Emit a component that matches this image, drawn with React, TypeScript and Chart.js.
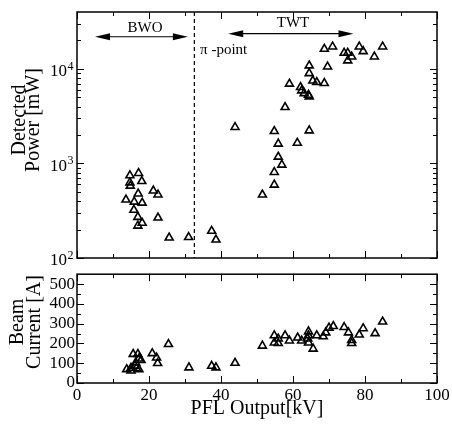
import React, { useEffect, useRef } from "react";
import { Chart, registerables } from "chart.js";

Chart.register(...registerables);

const FONT = "'Liberation Serif', 'Times New Roman', serif";

// ---- Data: detected power (top panel) ----
const powerKV = [
  14.7, 17.1, 14.7, 18.0, 14.8, 13.6, 17.0, 15.9, 18.1, 21.2, 22.5, 15.8, 16.9, 22.5, 18.1, 16.9, 25.6, 31.0, 37.4, 38.6,
  43.9, 51.5, 54.8, 54.8, 56.9, 55.9, 55.9, 54.8, 61.2, 64.5, 57.8, 59.0, 62.1, 62.4, 63.1, 64.3, 64.5, 64.5, 64.5,
  65.5, 66.6, 68.7, 69.6, 68.7, 71.0, 74.2, 75.2, 76.3, 75.2, 78.4, 79.5, 82.6, 84.9,
];
const powerMW = [
  747, 790, 628, 648, 580, 413, 479, 393, 383, 515, 468, 322, 271, 267, 235, 219, 164, 166, 193, 156,
  2420, 467, 595, 809, 968, 1175, 1615, 2195, 1650, 2230, 3935, 6950, 6400, 5900, 5520, 5310, 5100, 8990, 10840,
  7510, 7230, 7050, 10570, 16250, 17200, 14750, 14750, 13490, 12250, 17200, 15350, 13490, 17200,
];

// ---- Data: beam current (bottom panel) ----
const currentKV = [
  13.8, 15.0, 15.0, 15.6, 16.9, 16.3, 17.2, 17.8, 16.1, 17.2, 16.5, 20.9, 22.1, 22.4, 25.4, 31.1, 37.4, 38.6, 43.9,
  51.5, 54.8, 54.8, 55.9, 55.9, 57.8, 59.0, 61.3, 62.4, 64.3, 64.3, 64.1, 64.3, 65.6, 66.6, 68.4, 69.1, 70.0, 71.2,
  74.2, 75.4, 76.3, 76.3, 78.4, 79.5, 82.8, 84.9,
];
const currentA = [
  69, 62, 76, 146, 146, 103, 123, 115, 87, 69, 75, 150, 128, 100, 196, 78, 86, 78, 101,
  188, 240, 204, 224, 201, 240, 214, 229, 214, 260, 240, 224, 204, 173, 240, 235, 255, 279, 287,
  282, 255, 216, 201, 244, 276, 251, 310,
];

// ---- Axes / annotations ----
const xMin = 0;
const xMax = 100;
const xMajorTicks = [0, 20, 40, 60, 80, 100];
const xMinorTicks = [10, 30, 50, 70, 90];
const powerMin = 100;
const powerMax = 40000;
const powerDecades = [2, 3, 4];
const currentMin = 0;
const currentMax = 550;
const currentTicks = [0, 100, 200, 300, 400, 500];
const currentMinorTicks = [50, 150, 250, 350, 450];

const piPointKV = 32.6;
const bwoArrow = [5.0, 30.8];
const bwoArrowY = 21900;
const twtArrow = [42.0, 76.8];
const twtArrowY = 23600;
const bwoLabel = { x: 18.9, y: 27000, text: "BWO" };
const twtLabel = { x: 60.0, y: 30300, text: "TWT" };
const piLabel = { x: 34.2, y: 16000, text: "\u03c0 -point" };
const powerTitle = ["Detected", "Power [mW]"];
const currentTitle = ["Beam", "Current [A]"];
const xTitle = "PFL Output[kV]";

function drawFrameTicks(chart: any, xMaj: number[], xMin_: number[], yMaj: number[], yMin_: number[]) {
  const { ctx, chartArea: a, scales } = chart;
  ctx.save();
  ctx.strokeStyle = "#000";
  ctx.lineWidth = 1;
  ctx.beginPath();
  const xt = (vals: number[], len: number) => {
    vals.forEach((v) => {
      const p = Math.round(scales.x.getPixelForValue(v)) + 0.5;
      ctx.moveTo(p, a.bottom);
      ctx.lineTo(p, a.bottom - len);
      ctx.moveTo(p, a.top);
      ctx.lineTo(p, a.top + len);
    });
  };
  const yt = (vals: number[], len: number) => {
    vals.forEach((v) => {
      const p = Math.round(scales.y.getPixelForValue(v)) + 0.5;
      ctx.moveTo(a.left, p);
      ctx.lineTo(a.left + len, p);
      ctx.moveTo(a.right, p);
      ctx.lineTo(a.right - len, p);
    });
  };
  xt(xMaj, 7);
  xt(xMin_, 4);
  yt(yMaj, 7);
  yt(yMin_, 4);
  ctx.stroke();
  ctx.lineWidth = 1.5;
  ctx.strokeRect(a.left, a.top, a.right - a.left, a.bottom - a.top);
  ctx.restore();
}

function drawYTitle(ctx: CanvasRenderingContext2D, lines: string[], baselines: number[], centerY: number) {
  ctx.save();
  ctx.fillStyle = "#000";
  ctx.font = `20px ${FONT}`;
  ctx.textAlign = "center";
  ctx.textBaseline = "alphabetic";
  lines.forEach((t, i) => {
    ctx.save();
    ctx.translate(baselines[i], centerY);
    ctx.rotate(-Math.PI / 2);
    ctx.fillText(t, 0, 0);
    ctx.restore();
  });
  ctx.restore();
}

function drawArrow(ctx: CanvasRenderingContext2D, x1: number, x2: number, y: number) {
  const hl = 15;
  const hw = 3.5;
  ctx.beginPath();
  ctx.moveTo(x1 + hl - 1, y);
  ctx.lineTo(x2 - hl + 1, y);
  ctx.stroke();
  ctx.beginPath();
  ctx.moveTo(x1, y);
  ctx.lineTo(x1 + hl, y - hw);
  ctx.lineTo(x1 + hl, y + hw);
  ctx.closePath();
  ctx.fill();
  ctx.beginPath();
  ctx.moveTo(x2, y);
  ctx.lineTo(x2 - hl, y - hw);
  ctx.lineTo(x2 - hl, y + hw);
  ctx.closePath();
  ctx.fill();
}

const topPlugin = {
  id: "topDecor",
  afterDraw(chart: any) {
    const { ctx, chartArea: a, scales } = chart;
    const minors: number[] = [];
    powerDecades.forEach((d) => {
      for (let m = 2; m <= 9; m++) {
        const v = m * Math.pow(10, d);
        if (v < powerMax) minors.push(v);
      }
    });
    drawFrameTicks(
      chart,
      xMajorTicks,
      xMinorTicks,
      powerDecades.map((d) => Math.pow(10, d)),
      minors
    );
    ctx.save();
    ctx.fillStyle = "#000";
    ctx.strokeStyle = "#000";
    // y tick labels 10^n
    powerDecades.forEach((d) => {
      const py = scales.y.getPixelForValue(Math.pow(10, d));
      ctx.font = `17px ${FONT}`;
      ctx.textAlign = "right";
      ctx.textBaseline = "middle";
      ctx.fillText("10", 67, py + 3);
      ctx.font = `12px ${FONT}`;
      ctx.textAlign = "left";
      ctx.textBaseline = "alphabetic";
      ctx.fillText(String(d), 67.5, py + 1);
    });
    // pi-point dashed line
    const px = scales.x.getPixelForValue(piPointKV);
    ctx.lineWidth = 1.2;
    ctx.setLineDash([4, 3]);
    ctx.beginPath();
    ctx.moveTo(px, a.top);
    ctx.lineTo(px, a.bottom);
    ctx.stroke();
    ctx.setLineDash([]);
    // arrows
    ctx.lineWidth = 1.2;
    drawArrow(ctx, scales.x.getPixelForValue(bwoArrow[0]), scales.x.getPixelForValue(bwoArrow[1]), scales.y.getPixelForValue(bwoArrowY));
    drawArrow(ctx, scales.x.getPixelForValue(twtArrow[0]), scales.x.getPixelForValue(twtArrow[1]), scales.y.getPixelForValue(twtArrowY));
    ctx.font = `15px ${FONT}`;
    ctx.textBaseline = "middle";
    ctx.textAlign = "center";
    ctx.fillText(bwoLabel.text, scales.x.getPixelForValue(bwoLabel.x), scales.y.getPixelForValue(bwoLabel.y));
    ctx.fillText(twtLabel.text, scales.x.getPixelForValue(twtLabel.x), scales.y.getPixelForValue(twtLabel.y));
    ctx.textAlign = "left";
    ctx.fillText(piLabel.text, scales.x.getPixelForValue(piLabel.x), scales.y.getPixelForValue(piLabel.y));
    ctx.restore();
    drawYTitle(ctx, powerTitle, [25, 39], 120);
  },
};

const bottomPlugin = {
  id: "bottomDecor",
  afterDraw(chart: any) {
    drawFrameTicks(chart, xMajorTicks, xMinorTicks, currentTicks, currentMinorTicks);
    drawYTitle(chart.ctx, currentTitle, [23, 40], 60);
  },
};

const pointStyle = {
  pointStyle: "triangle" as const,
  pointRadius: 4.6,
  pointHoverRadius: 4.6,
  borderWidth: 1.6,
  borderColor: "#000",
  backgroundColor: "rgba(0,0,0,0)",
  showLine: false,
};

export default function App() {
  const topRef = useRef<HTMLCanvasElement>(null);
  const botRef = useRef<HTMLCanvasElement>(null);

  useEffect(() => {
    const top = new Chart(topRef.current!, {
      type: "scatter",
      data: {
        datasets: [
          {
            data: powerKV.map((x, i) => ({ x, y: powerMW[i] })),
            ...pointStyle,
          },
        ],
      },
      options: {
        animation: false,
        responsive: false,
        devicePixelRatio: 1,
        layout: { padding: { left: 77, right: 15, top: 12, bottom: 10 } },
        plugins: { legend: { display: false }, tooltip: { enabled: false } },
        scales: {
          x: { type: "linear", min: xMin, max: xMax, display: false },
          y: { type: "logarithmic", min: powerMin, max: powerMax, display: false },
        },
      },
      plugins: [topPlugin],
    } as any);

    const bot = new Chart(botRef.current!, {
      type: "scatter",
      data: {
        datasets: [
          {
            data: currentKV.map((x, i) => ({ x, y: currentA[i] })),
            ...pointStyle,
          },
        ],
      },
      options: {
        animation: false,
        responsive: false,
        devicePixelRatio: 1,
        layout: { padding: { left: 0, right: 15, top: 3, bottom: 0 } },
        plugins: { legend: { display: false }, tooltip: { enabled: false } },
        scales: {
          x: {
            type: "linear",
            min: xMin,
            max: xMax,
            grid: { display: false, drawTicks: false },
            border: { display: false },
            afterBuildTicks: (s: any) => {
              s.ticks = xMajorTicks.map((v) => ({ value: v }));
            },
            afterFit: (s: any) => {
              s.height = 42;
            },
            ticks: {
              color: "#000",
              font: { family: FONT, size: 17 },
              padding: 2,
              maxRotation: 0,
              autoSkip: false,
            },
            title: {
              display: true,
              text: xTitle,
              color: "#000",
              font: { family: FONT, size: 20, lineHeight: 1.2 },
              padding: { top: 0, bottom: 4 },
            },
          },
          y: {
            type: "linear",
            min: currentMin,
            max: currentMax,
            grid: { display: false, drawTicks: false },
            border: { display: false },
            afterBuildTicks: (s: any) => {
              s.ticks = currentTicks.map((v) => ({ value: v }));
            },
            afterFit: (s: any) => {
              s.width = 77;
            },
            ticks: {
              color: "#000",
              font: { family: FONT, size: 17 },
              padding: 2,
              autoSkip: false,
            },
          },
        },
      },
      plugins: [bottomPlugin],
    } as any);

    return () => {
      top.destroy();
      bot.destroy();
    };
  }, []);

  return (
    <div style={{ position: "absolute", left: 0, top: 0, width: 452, height: 425, background: "#fff" }}>
      <canvas ref={topRef} width={452} height={268} style={{ position: "absolute", left: 0, top: 0, display: "block" }} />
      <canvas ref={botRef} width={452} height={163} style={{ position: "absolute", left: 0, top: 262, display: "block" }} />
    </div>
  );
}
